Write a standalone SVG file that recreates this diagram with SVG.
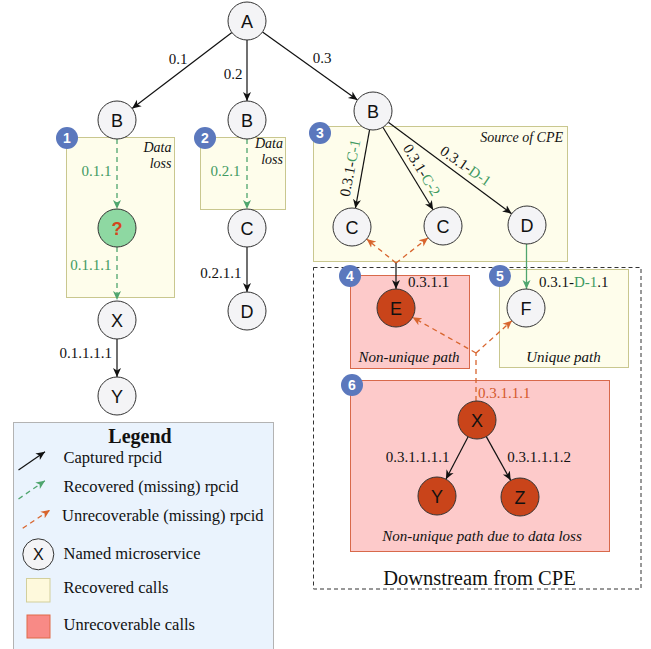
<svg xmlns="http://www.w3.org/2000/svg" width="651" height="649" viewBox="0 0 651 649">
<style>
.bg{fill:#ffffff}
.nd{fill:#f4f4f6;stroke:#333333;stroke-width:1}
.nr{fill:#c9441a;stroke:#333333;stroke-width:1}
.ng{fill:#8ed8a2;stroke:#333333;stroke-width:1}
.nt{font-family:"Liberation Sans",Arial,sans-serif;font-size:18px;text-anchor:middle;fill:#111}
.yb{fill:#fefdeb;stroke:#c9c78f;stroke-width:1}
.pb{fill:#fdcaca;stroke:#d8694b;stroke-width:1}
.bd circle{fill:#5b78bd}
.bd text{font-family:"Liberation Sans",Arial,sans-serif;font-size:14px;font-weight:bold;fill:#fff;text-anchor:middle}
.lb{font-family:"Liberation Serif","Times New Roman",serif;font-size:15px;fill:#111}
.it{font-family:"Liberation Serif","Times New Roman",serif;font-size:14px;font-style:italic;fill:#111}
.it15{font-family:"Liberation Serif","Times New Roman",serif;font-size:15px;font-style:italic;fill:#111}
.g{fill:#3f9a62}
.o{fill:#d4592a}
.cap{stroke:#111;stroke-width:1.2;fill:none}
.rec{stroke:#4fa56e;stroke-width:1.3;fill:none;stroke-dasharray:5 4}
.recs{stroke:#4fa56e;stroke-width:1.3;fill:none}
.unr{stroke:#d8652e;stroke-width:1.3;fill:none;stroke-dasharray:5 4}
.leg{font-family:"Liberation Serif","Times New Roman",serif;font-size:16.5px;fill:#111}
</style>
<defs>
<marker id="ab" markerWidth="10" markerHeight="10" refX="9" refY="5" orient="auto" markerUnits="userSpaceOnUse"><path d="M0,1 L9,5 L0,9 L2.5,5 z" fill="#111"/></marker>
<marker id="ag" markerWidth="10" markerHeight="10" refX="9" refY="5" orient="auto" markerUnits="userSpaceOnUse"><path d="M0,1 L9,5 L0,9 L2.5,5 z" fill="#4fa56e"/></marker>
<marker id="ao" markerWidth="10" markerHeight="10" refX="9" refY="5" orient="auto" markerUnits="userSpaceOnUse"><path d="M0,1 L9,5 L0,9 L2.5,5 z" fill="#d8652e"/></marker>
</defs>
<rect class="bg" x="0" y="0" width="651" height="649"/>

<g id="regions">
<rect id="box1" class="yb" x="66.5" y="137.5" width="108" height="160"/>
<rect id="box2" class="yb" x="200.5" y="137.5" width="85" height="72"/>
<rect id="box3" class="yb" x="313.5" y="126.5" width="254" height="135"/>
<rect id="downstream" x="313.5" y="267.5" width="327.5" height="321.5" fill="none" stroke="#333" stroke-width="1" stroke-dasharray="4 3"/>
<rect id="box4" class="pb" x="350.5" y="275.5" width="119" height="93"/>
<rect id="box5" class="yb" x="499.5" y="269.5" width="129" height="98"/>
<rect id="box6" class="pb" x="350.5" y="380.5" width="259" height="171"/>
<text class="it" x="171.5" y="152" text-anchor="end">Data</text>
<text class="it" x="171.5" y="168" text-anchor="end">loss</text>
<text class="it" x="283" y="148" text-anchor="end">Data</text>
<text class="it" x="283" y="164" text-anchor="end">loss</text>
<text class="it" x="563" y="142" text-anchor="end">Source of CPE</text>
<text class="it15" x="409" y="362" text-anchor="middle">Non-unique path</text>
<text class="it15" x="563.5" y="362" text-anchor="middle">Unique path</text>
<text class="it15" x="482" y="541" text-anchor="middle">Non-unique path due to data loss</text>
<text x="479.5" y="585" text-anchor="middle" font-family="'Liberation Serif','Times New Roman',serif" font-size="20.5px" fill="#111">Downstream from CPE</text>
</g>

<g id="connectors">
<line class="cap" x1="231.9" y1="32.5" x2="132.1" y2="108.5" marker-end="url(#ab)"/>
<line class="cap" x1="247" y1="40" x2="247" y2="101" marker-end="url(#ab)"/>
<line class="cap" x1="262.5" y1="32" x2="357.5" y2="100" marker-end="url(#ab)"/>
<line class="rec" x1="117" y1="139" x2="117" y2="209" marker-end="url(#ag)"/>
<line class="rec" x1="117" y1="247" x2="117" y2="300" marker-end="url(#ag)"/>
<line class="cap" x1="117" y1="339" x2="117" y2="377" marker-end="url(#ab)"/>
<line class="rec" x1="247" y1="139" x2="247" y2="209" marker-end="url(#ag)"/>
<line class="cap" x1="247" y1="247" x2="247" y2="292" marker-end="url(#ab)"/>
<line class="cap" x1="369.6" y1="129.7" x2="355.4" y2="208.3" marker-end="url(#ab)"/>
<line class="cap" x1="382.9" y1="127.2" x2="433.1" y2="209.8" marker-end="url(#ab)"/>
<line class="cap" x1="388.3" y1="122.3" x2="511.7" y2="213.7" marker-end="url(#ab)"/>
<line class="unr" x1="396" y1="263" x2="366.7" y2="239" marker-end="url(#ao)"/>
<line class="unr" x1="396" y1="263" x2="428.1" y2="237.8" marker-end="url(#ao)"/>
<line class="cap" x1="396" y1="263" x2="396" y2="289" marker-end="url(#ab)"/>
<line class="recs" x1="526.5" y1="244" x2="526.5" y2="289" marker-end="url(#ag)"/>
<line class="unr" x1="476" y1="401" x2="476" y2="353"/>
<line class="unr" x1="476" y1="353" x2="412.5" y2="317.3" marker-end="url(#ao)"/>
<line class="unr" x1="476" y1="353" x2="511.9" y2="320.7" marker-end="url(#ao)"/>
<line class="cap" x1="468.1" y1="436.8" x2="445.9" y2="479.2" marker-end="url(#ab)"/>
<line class="cap" x1="486.3" y1="436.6" x2="510.7" y2="480.4" marker-end="url(#ab)"/>
</g>

<g id="edge-labels">
<text class="lb" x="178" y="64" text-anchor="middle">0.1</text>
<text class="lb" x="233" y="79" text-anchor="middle">0.2</text>
<text class="lb" x="322" y="63" text-anchor="middle">0.3</text>
<text class="lb g" x="111.5" y="176" text-anchor="end">0.1.1</text>
<text class="lb g" x="111.5" y="270" text-anchor="end">0.1.1.1</text>
<text class="lb" x="112" y="358" text-anchor="end">0.1.1.1.1</text>
<text class="lb g" x="240.5" y="176" text-anchor="end">0.2.1</text>
<text class="lb" x="241.5" y="278" text-anchor="end">0.2.1.1</text>
<text class="lb" text-anchor="middle" transform="translate(350,168) rotate(-79)" y="5">0.3.1-<tspan class="g">C-1</tspan></text>
<text class="lb" text-anchor="middle" transform="translate(421.7,170) rotate(58.5)" y="5">0.3.1-<tspan class="g">C-2</tspan></text>
<text class="lb" text-anchor="middle" transform="translate(465.7,166) rotate(35)" y="5">0.3.1-<tspan class="g">D-1</tspan></text>
<text class="lb" x="408" y="287">0.3.1.1</text>
<text class="lb" x="539" y="287">0.3.1-<tspan class="g">D-1</tspan>.1</text>
<text class="lb o" x="478" y="398">0.3.1.1.1</text>
<text class="lb" x="417.5" y="462" text-anchor="middle">0.3.1.1.1.1</text>
<text class="lb" x="539" y="462" text-anchor="middle">0.3.1.1.1.2</text>
</g>

<g id="node-A"><circle class="nd" cx="247" cy="21" r="19"/><text class="nt" x="247" y="27.5">A</text></g>
<g id="node-B1"><circle class="nd" cx="117" cy="120" r="19"/><text class="nt" x="117" y="126.5">B</text></g>
<g id="node-B2"><circle class="nd" cx="247" cy="120" r="19"/><text class="nt" x="247" y="126.5">B</text></g>
<g id="node-B3"><circle class="nd" cx="373" cy="111" r="19"/><text class="nt" x="373" y="117.5">B</text></g>
<g id="node-Q"><circle class="ng" cx="117" cy="228" r="19"/><text class="nt" x="117" y="234.5" font-weight="bold" fill="#d4451c" style="fill:#d4451c">?</text></g>
<g id="node-X1"><circle class="nd" cx="117" cy="320" r="19"/><text class="nt" x="117" y="326.5">X</text></g>
<g id="node-Y1"><circle class="nd" cx="117" cy="396" r="19"/><text class="nt" x="117" y="402.5">Y</text></g>
<g id="node-C2"><circle class="nd" cx="247" cy="228" r="19"/><text class="nt" x="247" y="234.5">C</text></g>
<g id="node-D2"><circle class="nd" cx="247" cy="311" r="19"/><text class="nt" x="247" y="317.5">D</text></g>
<g id="node-C3a"><circle class="nd" cx="352" cy="227" r="19"/><text class="nt" x="352" y="233.5">C</text></g>
<g id="node-C3b"><circle class="nd" cx="443" cy="226" r="19"/><text class="nt" x="443" y="232.5">C</text></g>
<g id="node-D3"><circle class="nd" cx="527" cy="225" r="19"/><text class="nt" x="527" y="231.5">D</text></g>
<g id="node-E"><circle class="nr" cx="396" cy="308" r="19"/><text class="nt" x="396" y="314.5">E</text></g>
<g id="node-F"><circle class="nd" cx="526" cy="308" r="19"/><text class="nt" x="526" y="314.5">F</text></g>
<g id="node-X6"><circle class="nr" cx="477" cy="420" r="19"/><text class="nt" x="477" y="426.5">X</text></g>
<g id="node-Y6"><circle class="nr" cx="437" cy="496" r="19"/><text class="nt" x="437" y="502.5">Y</text></g>
<g id="node-Z6"><circle class="nr" cx="520" cy="497" r="19"/><text class="nt" x="520" y="503.5">Z</text></g>

<g id="badges">
<g class="bd" id="badge-1"><circle cx="67" cy="138" r="11"/><text x="67" y="143">1</text></g>
<g class="bd" id="badge-2"><circle cx="205" cy="138" r="11"/><text x="205" y="143">2</text></g>
<g class="bd" id="badge-3"><circle cx="320" cy="133" r="11"/><text x="320" y="138">3</text></g>
<g class="bd" id="badge-4"><circle cx="350" cy="276" r="11"/><text x="350" y="281">4</text></g>
<g class="bd" id="badge-5"><circle cx="500" cy="276" r="11"/><text x="500" y="281">5</text></g>
<g class="bd" id="badge-6"><circle cx="352" cy="385" r="11"/><text x="352" y="390">6</text></g>
</g>

<g id="legend">
<rect x="13.5" y="422.5" width="260" height="240" fill="#eaf3fd" stroke="#b3b3b3" stroke-width="1"/>
<text x="140" y="443" text-anchor="middle" font-family="'Liberation Serif','Times New Roman',serif" font-size="20px" font-weight="bold" fill="#111">Legend</text>
<line class="cap" x1="18.5" y1="470" x2="45" y2="451.7" marker-end="url(#ab)"/>
<text class="leg" x="63.5" y="463">Captured rpcid</text>
<line class="rec" x1="18.5" y1="499" x2="45" y2="480.7" marker-end="url(#ag)"/>
<text class="leg" x="63.5" y="491.5">Recovered (missing) rpcid</text>
<line class="unr" x1="22.7" y1="528.3" x2="50" y2="510" marker-end="url(#ao)"/>
<text class="leg" x="62" y="520.5">Unrecoverable (missing) rpcid</text>
<circle class="nd" cx="38.3" cy="554.3" r="15.5"/>
<text x="38.3" y="560" text-anchor="middle" font-family="'Liberation Sans',Arial,sans-serif" font-size="16px" fill="#111">X</text>
<text class="leg" x="63.5" y="559">Named microservice</text>
<rect x="26.5" y="578.5" width="23.5" height="23.5" fill="#fef9dc" stroke="#d2cf9c" stroke-width="1"/>
<text class="leg" x="63.5" y="593">Recovered calls</text>
<rect x="27" y="615" width="23" height="23" fill="#f88a86" stroke="#df6a48" stroke-width="1"/>
<text class="leg" x="63.5" y="629.5">Unrecoverable calls</text>
</g>
</svg>
